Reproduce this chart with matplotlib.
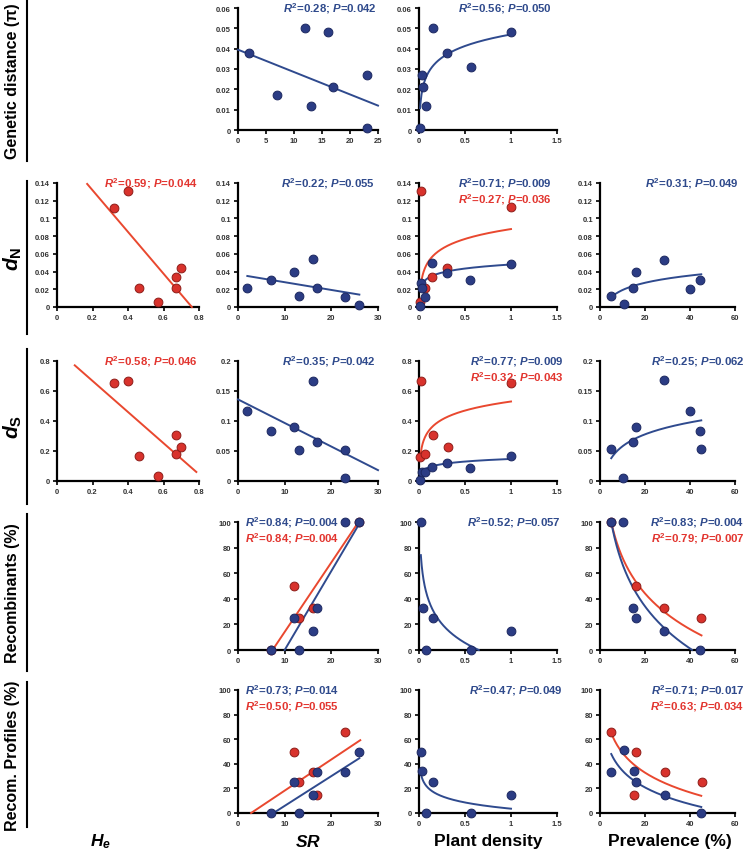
import numpy as np
import matplotlib
matplotlib.use('Agg')
import matplotlib.pyplot as plt
from matplotlib.lines import Line2D
from matplotlib.ticker import MultipleLocator, FuncFormatter

plt.rcParams['font.family'] = ['Liberation Sans', 'DejaVu Sans']
plt.rcParams['font.weight'] = 'bold'
plt.rcParams['mathtext.fontset'] = 'custom'
plt.rcParams['mathtext.rm'] = 'Liberation Sans:bold'
plt.rcParams['mathtext.it'] = 'Liberation Sans:italic:bold'
plt.rcParams['mathtext.bf'] = 'Liberation Sans:bold'

BLUE_DOT = '#2b3c84'
BLUE_EDGE = '#1c2860'
RED_DOT = '#d8322c'
RED_EDGE = '#8e1c18'
BLUE_LINE = '#2f4a8e'
RED_LINE = '#e9482f'
BLUE_TXT = '#2f4a8c'
RED_TXT = '#e2352f'

# ---- data ----
# row 1: genetic distance (pi)
pi_sr_x = [2, 7, 12, 13, 16, 17, 23, 23]
pi_sr_y = [0.038, 0.017, 0.050, 0.012, 0.048, 0.021, 0.027, 0.001]
pi_sr_fit = [-0.0011, 0.0395]          # slope, intercept
pi_sr_rng = [0, 25]

pi_pd_x = [0.01, 0.03, 0.04, 0.08, 0.15, 0.30, 0.56, 1.0]
pi_pd_y = [0.001, 0.027, 0.021, 0.012, 0.050, 0.038, 0.031, 0.048]
pi_pd_fit = [0.047, 0.0082]           # a + b*ln(x)
pi_pd_rng = [0.012, 1.0]

# row 2: dN
dn_he_x = [0.32, 0.40, 0.46, 0.57, 0.67, 0.67, 0.70]
dn_he_y = [0.112, 0.131, 0.021, 0.006, 0.034, 0.021, 0.044]
dn_he_fit = [-0.2356, 0.179]
dn_he_rng = [0.17, 0.76]

dn_sr_x = [2, 7, 12, 13, 16, 17, 23, 26]
dn_sr_y = [0.021, 0.031, 0.040, 0.012, 0.054, 0.021, 0.011, 0.002]
dn_sr_fit = [-0.000875, 0.03675]
dn_sr_rng = [2, 26]

dn_pd_bx = [0.01, 0.02, 0.03, 0.07, 0.14, 0.30, 0.55, 1.0]
dn_pd_by = [0.001, 0.027, 0.022, 0.011, 0.050, 0.038, 0.031, 0.048]
dn_pd_rx = [0.01, 0.02, 0.07, 0.14, 0.30, 1.0]
dn_pd_ry = [0.006, 0.131, 0.021, 0.034, 0.044, 0.113]
dn_pd_bfit = [0.048, 0.0066]
dn_pd_rfit = [0.088, 0.0161]
dn_pd_rng = [0.02, 1.0]

dn_prev_x = [4.9, 10.5, 14.8, 16, 28.6, 40.1, 44.4]
dn_prev_y = [0.012, 0.003, 0.022, 0.039, 0.053, 0.020, 0.031]
dn_prev_fit = [-0.008, 0.0118]
dn_prev_rng = [5, 45]

# row 3: dS
ds_he_x = [0.32, 0.40, 0.46, 0.57, 0.67, 0.67, 0.70]
ds_he_y = [0.653, 0.664, 0.164, 0.033, 0.307, 0.178, 0.227]
ds_he_fit = [-1.038, 0.875]
ds_he_rng = [0.10, 0.785]

ds_sr_x = [2, 7, 12, 13, 16, 17, 23, 23]
ds_sr_y = [0.116, 0.083, 0.090, 0.052, 0.167, 0.065, 0.052, 0.005]
ds_sr_fit = [-0.00393, 0.136]
ds_sr_rng = [0, 30]

ds_pd_bx = [0.01, 0.03, 0.07, 0.14, 0.30, 0.55, 1.0]
ds_pd_by = [0.008, 0.060, 0.060, 0.092, 0.118, 0.090, 0.167]
ds_pd_rx = [0.02, 0.01, 0.07, 0.15, 0.31, 1.0]
ds_pd_ry = [0.667, 0.162, 0.178, 0.305, 0.226, 0.653]
ds_pd_bfit = [0.147, 0.025]
ds_pd_rfit = [0.53, 0.087]
ds_pd_rng = [0.02, 1.0]

ds_prev_x = [4.7, 10.4, 14.5, 16, 28.6, 40, 44.5, 45.1]
ds_prev_y = [0.053, 0.005, 0.065, 0.090, 0.168, 0.117, 0.084, 0.053]
ds_prev_fit = [-0.0082, 0.0287]
ds_prev_rng = [5, 45]

# row 4: recombinants (%)
rec_sr_bx = [7, 12, 13, 16, 17, 23, 26]
rec_sr_by = [0, 25, 0, 15, 33, 100, 100]
rec_sr_rx = [7, 12, 13, 16, 26]
rec_sr_ry = [0, 50, 25, 33, 100]
rec_sr_bfit = [6.17, -61.7]
rec_sr_brng = [10, 26.2]
rec_sr_rfit = [5.43, -40.2]
rec_sr_rrng = [7.4, 25.8]

rec_pd_x = [0.02, 0.04, 0.08, 0.15, 0.56, 1.0]
rec_pd_y = [100, 33, 0, 25, 0, 15]
rec_pd_fit = [-9.2, -21.3]
rec_pd_rng = [0.02, 0.65]

rec_prev_bx = [5, 10.3, 14.6, 15.8, 28.6, 44.6]
rec_prev_by = [100, 100, 33, 25, 15, 0]
rec_prev_rx = [5, 15.8, 28.4, 45.1]
rec_prev_ry = [100, 50, 33, 25]
rec_prev_bfit = [176.4, -47.5]
rec_prev_brng = [5, 40.9]
rec_prev_rfit = [164.9, -40.3]
rec_prev_rrng = [5, 45.1]

# row 5: recombinant profiles (%)
prof_sr_bx = [7, 12, 13, 16, 17, 23, 26]
prof_sr_by = [0, 25, 0, 15, 33, 33, 50]
prof_sr_rx = [12, 13, 16, 17, 23]
prof_sr_ry = [50, 25, 33, 15, 66]
prof_sr_bfit = [2.42, -18.4]
prof_sr_brng = [7.6, 26]
prof_sr_rfit = [2.53, -7.1]
prof_sr_rrng = [2.8, 26.2]

prof_pd_x = [0.02, 0.03, 0.08, 0.15, 0.56, 1.0]
prof_pd_y = [50, 34, 0, 25, 0, 15]
prof_pd_fit = [3.5, -7.3]
prof_pd_rng = [0.02, 1.0]

prof_prev_bx = [5, 10.7, 14.9, 16, 28.8, 44.9]
prof_prev_by = [33, 51, 34, 25, 15, 0]
prof_prev_rx = [5, 14.9, 16, 28.7, 45.3]
prof_prev_ry = [66, 15, 50, 33, 25]
prof_prev_bfit = [79.5, -19.6]
prof_prev_rfit = [102.3, -23.2]
prof_prev_rng = [5, 45]

row_labels = ['Genetic distance (π)', r'$d_{\mathrm{N}}$', r'$d_{\mathrm{S}}$',
              'Recombinants (%)', 'Recom. Profiles (%)']
col_labels = [r'$H_e$', r'$SR$', 'Plant density', 'Prevalence (%)']

# ---- layout (pixels in the 748x853 picture) ----
W, H = 748, 853
cols_px = [(57, 199), (238, 378), (419, 557), (600, 735)]
rows_px = [(9, 131), (184, 308), (362, 482), (523, 651), (691, 814)]

fig = plt.figure(figsize=(W / 100, H / 100), dpi=100)


def make_ax(r, c, xmax, xstep, ymax, ystep):
    x0, x1 = cols_px[c]
    y0, y1 = rows_px[r]
    ax = fig.add_axes([x0 / W, 1 - y1 / H, (x1 - x0) / W, (y1 - y0) / H])
    ax.set_xlim(0, xmax)
    ax.set_ylim(0, ymax)
    ax.xaxis.set_major_locator(MultipleLocator(xstep))
    ax.yaxis.set_major_locator(MultipleLocator(ystep))
    fmt = FuncFormatter(lambda v, p: '%g' % round(v, 4))
    ax.xaxis.set_major_formatter(fmt)
    ax.yaxis.set_major_formatter(fmt)
    for s in ['top', 'right']:
        ax.spines[s].set_visible(False)
    for s in ['left', 'bottom']:
        ax.spines[s].set_linewidth(1.6)
    ax.tick_params(direction='out', length=3, width=1.2, labelsize=5.5,
                   labelcolor='#333333', pad=2)
    ax.patch.set_alpha(0)
    return ax


def dots(ax, x, y, red=False):
    if red:
        ax.scatter(x, y, s=40, c=RED_DOT, edgecolors=RED_EDGE, linewidths=0.7,
                   zorder=5, clip_on=False)
    else:
        ax.scatter(x, y, s=40, c=BLUE_DOT, edgecolors=BLUE_EDGE, linewidths=0.7,
                   zorder=6, clip_on=False)


def line_fit(ax, coef, rng, red=False):
    xs = np.array(rng, dtype=float)
    ax.plot(xs, coef[0] * xs + coef[1], color=RED_LINE if red else BLUE_LINE,
            lw=1.4, zorder=3, clip_on=False)


def log_fit(ax, coef, rng, red=False):
    xs = np.linspace(rng[0], rng[1], 200)
    ax.plot(xs, coef[0] + coef[1] * np.log(xs), color=RED_LINE if red else BLUE_LINE,
            lw=1.4, zorder=3, clip_on=False)


def stat(ax, r2, p, x, red=False, line=0, ha='right'):
    s = r'$R^2$=' + r2 + r'; $P$=' + p
    ax.annotate(s, xy=(x, 1.0), xycoords='axes fraction', xytext=(0, -11.2 * line),
                textcoords='offset points', ha=ha, va='center', fontsize=8.2,
                fontweight='bold', color=RED_TXT if red else BLUE_TXT, zorder=10)


# row 1
ax = make_ax(0, 1, 25, 5, 0.06, 0.01)
dots(ax, pi_sr_x, pi_sr_y)
line_fit(ax, pi_sr_fit, pi_sr_rng)
stat(ax, '0.28', '0.042', 0.99)

ax = make_ax(0, 2, 1.5, 0.5, 0.06, 0.01)
dots(ax, pi_pd_x, pi_pd_y)
log_fit(ax, pi_pd_fit, pi_pd_rng)
stat(ax, '0.56', '0.050', 0.96)

# row 2
ax = make_ax(1, 0, 0.8, 0.2, 0.14, 0.02)
dots(ax, dn_he_x, dn_he_y, red=True)
line_fit(ax, dn_he_fit, dn_he_rng, red=True)
stat(ax, '0.59', '0.044', 0.99, red=True)

ax = make_ax(1, 1, 30, 10, 0.14, 0.02)
dots(ax, dn_sr_x, dn_sr_y)
line_fit(ax, dn_sr_fit, dn_sr_rng)
stat(ax, '0.22', '0.055', 0.98)

ax = make_ax(1, 2, 1.5, 0.5, 0.14, 0.02)
dots(ax, dn_pd_rx, dn_pd_ry, red=True)
dots(ax, dn_pd_bx, dn_pd_by)
log_fit(ax, dn_pd_rfit, dn_pd_rng, red=True)
log_fit(ax, dn_pd_bfit, dn_pd_rng)
stat(ax, '0.71', '0.009', 0.96)
stat(ax, '0.27', '0.036', 0.96, red=True, line=1)

ax = make_ax(1, 3, 60, 20, 0.14, 0.02)
dots(ax, dn_prev_x, dn_prev_y)
log_fit(ax, dn_prev_fit, dn_prev_rng)
stat(ax, '0.31', '0.049', 1.03)

# row 3
ax = make_ax(2, 0, 0.8, 0.2, 0.8, 0.2)
dots(ax, ds_he_x, ds_he_y, red=True)
line_fit(ax, ds_he_fit, ds_he_rng, red=True)
stat(ax, '0.58', '0.046', 0.99, red=True)

ax = make_ax(2, 1, 30, 10, 0.2, 0.05)
dots(ax, ds_sr_x, ds_sr_y)
line_fit(ax, ds_sr_fit, ds_sr_rng)
stat(ax, '0.35', '0.042', 0.98)

ax = make_ax(2, 2, 1.5, 0.5, 0.8, 0.2)
dots(ax, ds_pd_rx, ds_pd_ry, red=True)
dots(ax, ds_pd_bx, ds_pd_by)
log_fit(ax, ds_pd_rfit, ds_pd_rng, red=True)
log_fit(ax, ds_pd_bfit, ds_pd_rng)
stat(ax, '0.77', '0.009', 1.05)
stat(ax, '0.32', '0.043', 1.05, red=True, line=1)

ax = make_ax(2, 3, 60, 20, 0.2, 0.05)
dots(ax, ds_prev_x, ds_prev_y)
log_fit(ax, ds_prev_fit, ds_prev_rng)
stat(ax, '0.25', '0.062', 1.07)

# row 4
ax = make_ax(3, 1, 30, 10, 100, 20)
dots(ax, rec_sr_rx, rec_sr_ry, red=True)
dots(ax, rec_sr_bx, rec_sr_by)
line_fit(ax, rec_sr_rfit, rec_sr_rrng, red=True)
line_fit(ax, rec_sr_bfit, rec_sr_brng)
stat(ax, '0.84', '0.004', 0.05, ha='left')
stat(ax, '0.84', '0.004', 0.05, red=True, line=1, ha='left')

ax = make_ax(3, 2, 1.5, 0.5, 100, 20)
dots(ax, rec_pd_x, rec_pd_y)
log_fit(ax, rec_pd_fit, rec_pd_rng)
stat(ax, '0.52', '0.057', 1.03)

ax = make_ax(3, 3, 60, 20, 100, 20)
dots(ax, rec_prev_rx, rec_prev_ry, red=True)
dots(ax, rec_prev_bx, rec_prev_by)
log_fit(ax, rec_prev_rfit, rec_prev_rrng, red=True)
log_fit(ax, rec_prev_bfit, rec_prev_brng)
stat(ax, '0.83', '0.004', 1.07)
stat(ax, '0.79', '0.007', 1.07, red=True, line=1)

# row 5
ax = make_ax(4, 1, 30, 10, 100, 20)
dots(ax, prof_sr_rx, prof_sr_ry, red=True)
dots(ax, prof_sr_bx, prof_sr_by)
line_fit(ax, prof_sr_rfit, prof_sr_rrng, red=True)
line_fit(ax, prof_sr_bfit, prof_sr_brng)
stat(ax, '0.73', '0.014', 0.05, ha='left')
stat(ax, '0.50', '0.055', 0.05, red=True, line=1, ha='left')

ax = make_ax(4, 2, 1.5, 0.5, 100, 20)
dots(ax, prof_pd_x, prof_pd_y)
log_fit(ax, prof_pd_fit, prof_pd_rng)
stat(ax, '0.47', '0.049', 1.04)

ax = make_ax(4, 3, 60, 20, 100, 20)
dots(ax, prof_prev_rx, prof_prev_ry, red=True)
dots(ax, prof_prev_bx, prof_prev_by)
log_fit(ax, prof_prev_rfit, prof_prev_rng, red=True)
log_fit(ax, prof_prev_bfit, prof_prev_rng)
stat(ax, '0.71', '0.017', 1.07)
stat(ax, '0.63', '0.034', 1.07, red=True, line=1)

# row labels with the vertical bars beside them
bands = [(0, 162), (182, 335), (350, 505), (515, 672), (683, 828)]
for lab, (b0, b1) in zip(row_labels, bands):
    fs = 15 if lab.startswith('$') else 11.5
    fig.text(13 / W, 1 - (b0 + b1) / 2 / H, lab, rotation=90, ha='center', va='center',
             fontsize=fs, fontweight='bold')
    fig.add_artist(Line2D([27 / W, 27 / W], [1 - b0 / H, 1 - b1 / H],
                          color='black', lw=1.5))

# column labels
col_x = [100, 308, 488, 670]
for lab, cx in zip(col_labels, col_x):
    fig.text(cx / W, 1 - 842 / H, lab, ha='center', va='center',
             fontsize=12.5, fontweight='bold')

fig.savefig('out.png', dpi=100)
